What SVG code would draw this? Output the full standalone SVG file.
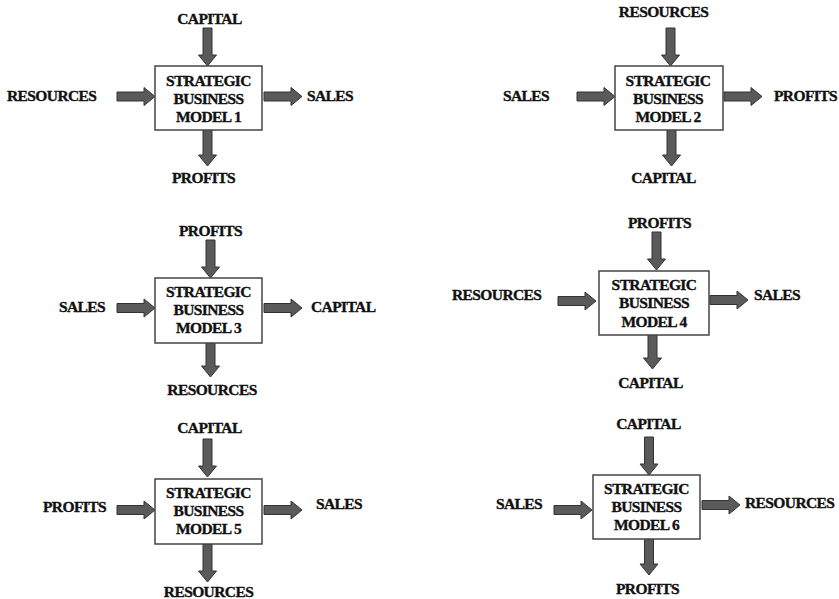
<svg xmlns="http://www.w3.org/2000/svg" xmlns:xlink="http://www.w3.org/1999/xlink" width="839" height="599" viewBox="0 0 839 599">
<style>
text{font-family:"Liberation Serif","Times New Roman",serif;font-weight:bold;font-size:15.5px;letter-spacing:-0.6px;fill:#111;stroke:#111;stroke-width:0.35}
.m{text-anchor:middle}
.box{fill:#fff;stroke:#444;stroke-width:1.5}
.arr{fill:#5a5a5a;stroke:#333;stroke-width:1}
</style>
<defs>
<path id="arr" d="M0,-4.5 H27 V-9 L38,0 L27,9 V4.5 H0 Z"/>
</defs>
<rect width="839" height="599" fill="#fff"/>
<g id="connectors" class="arr">
<use xlink:href="#arr" transform="translate(207.5,28) rotate(90)"/>
<use xlink:href="#arr" transform="translate(117,96.5)"/>
<use xlink:href="#arr" transform="translate(264,96.5)"/>
<use xlink:href="#arr" transform="translate(207.5,128) rotate(90)"/>

<use xlink:href="#arr" transform="translate(670.5,28) rotate(90)"/>
<use xlink:href="#arr" transform="translate(577,96.5)"/>
<use xlink:href="#arr" transform="translate(724,96.5)"/>
<use xlink:href="#arr" transform="translate(671.5,128) rotate(90)"/>

<use xlink:href="#arr" transform="translate(210.5,240) rotate(90)"/>
<use xlink:href="#arr" transform="translate(117,308)"/>
<use xlink:href="#arr" transform="translate(264,308)"/>
<use xlink:href="#arr" transform="translate(210.5,339) rotate(90)"/>

<use xlink:href="#arr" transform="translate(656.5,232) rotate(90)"/>
<use xlink:href="#arr" transform="translate(558,301)"/>
<use xlink:href="#arr" transform="translate(710,300)"/>
<use xlink:href="#arr" transform="translate(652.5,331) rotate(90)"/>

<use xlink:href="#arr" transform="translate(207.5,439) rotate(90)"/>
<use xlink:href="#arr" transform="translate(117,510)"/>
<use xlink:href="#arr" transform="translate(264,510)"/>
<use xlink:href="#arr" transform="translate(207.5,544) rotate(90)"/>

<use xlink:href="#arr" transform="translate(649,437) rotate(90)"/>
<use xlink:href="#arr" transform="translate(554,510)"/>
<use xlink:href="#arr" transform="translate(702,505)"/>
<use xlink:href="#arr" transform="translate(649,537) rotate(90)"/>
</g>

<g id="model1">
<rect class="box" x="155" y="66" width="107" height="64"/>
<text class="m" x="208.5" y="86">STRATEGIC</text>
<text class="m" x="208.5" y="104">BUSINESS</text>
<text class="m" x="208.5" y="122">MODEL 1</text>
</g>
<g id="model1-labels">
<text class="m" x="209.5" y="24">CAPITAL</text>
<text x="7" y="101">RESOURCES</text>
<text x="307" y="101">SALES</text>
<text class="m" x="203.5" y="183">PROFITS</text>
</g>

<g id="model2">
<rect class="box" x="615" y="66" width="108" height="64"/>
<text class="m" x="668" y="86">STRATEGIC</text>
<text class="m" x="668" y="104">BUSINESS</text>
<text class="m" x="668" y="122">MODEL 2</text>
</g>
<g id="model2-labels">
<text class="m" x="663.5" y="17">RESOURCES</text>
<text x="503" y="101">SALES</text>
<text x="774" y="101">PROFITS</text>
<text class="m" x="663.5" y="183">CAPITAL</text>
</g>

<g id="model3">
<rect class="box" x="155" y="278" width="107" height="65"/>
<text class="m" x="208.5" y="297">STRATEGIC</text>
<text class="m" x="208.5" y="315">BUSINESS</text>
<text class="m" x="208.5" y="333">MODEL 3</text>
</g>
<g id="model3-labels">
<text class="m" x="210.5" y="236">PROFITS</text>
<text x="59" y="312">SALES</text>
<text x="311" y="312">CAPITAL</text>
<text class="m" x="212" y="395">RESOURCES</text>
</g>

<g id="model4">
<rect class="box" x="599" y="271" width="110" height="64"/>
<text class="m" x="654" y="290">STRATEGIC</text>
<text class="m" x="654" y="308">BUSINESS</text>
<text class="m" x="654" y="327">MODEL 4</text>
</g>
<g id="model4-labels">
<text class="m" x="659.5" y="228">PROFITS</text>
<text x="452" y="300">RESOURCES</text>
<text x="754" y="300">SALES</text>
<text class="m" x="650.5" y="388">CAPITAL</text>
</g>

<g id="model5">
<rect class="box" x="155" y="479" width="107" height="65"/>
<text class="m" x="208.5" y="498">STRATEGIC</text>
<text class="m" x="208.5" y="516">BUSINESS</text>
<text class="m" x="208.5" y="534">MODEL 5</text>
</g>
<g id="model5-labels">
<text class="m" x="209.5" y="433">CAPITAL</text>
<text x="43" y="512">PROFITS</text>
<text x="316" y="509">SALES</text>
<text class="m" x="208.5" y="597">RESOURCES</text>
</g>

<g id="model6">
<rect class="box" x="593" y="475" width="107" height="64"/>
<text class="m" x="646.5" y="494">STRATEGIC</text>
<text class="m" x="646.5" y="512">BUSINESS</text>
<text class="m" x="646.5" y="530">MODEL 6</text>
</g>
<g id="model6-labels">
<text class="m" x="648.5" y="429">CAPITAL</text>
<text x="496" y="509">SALES</text>
<text x="745" y="508">RESOURCES</text>
<text class="m" x="647.5" y="594">PROFITS</text>
</g>
</svg>
